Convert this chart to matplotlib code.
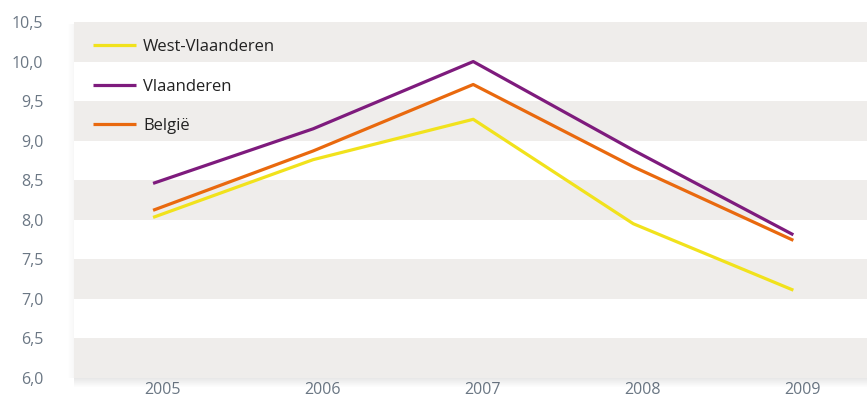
import numpy as np
import matplotlib.pyplot as plt
from matplotlib.patches import Rectangle
import matplotlib.transforms as mtransforms

plt.rcParams['font.family'] = ['Open Sans', 'DejaVu Sans']

jaren = ['2005', '2006', '2007', '2008', '2009']
west_vlaanderen = [8.03, 8.76, 9.27, 7.95, 7.11]
vlaanderen = [8.46, 9.15, 10.0, 8.88, 7.81]
belgie = [8.12, 8.87, 9.71, 8.67, 7.74]
y_ticks = [6.0, 6.5, 7.0, 7.5, 8.0, 8.5, 9.0, 9.5, 10.0, 10.5]

fig = plt.figure(figsize=(8.67, 3.97), dpi=100)
ax = fig.add_axes([74/867, 19/397, 1 - 74/867, 356/397])

# grijze en witte banden om de halve eenheid
for i, lo in enumerate(y_ticks[:-1]):
    kleur = '#efedeb' if i % 2 == 0 else 'white'
    ax.axhspan(lo, lo + 0.5, color=kleur, zorder=0, lw=0)

x = np.arange(len(jaren))
ax.plot(x, west_vlaanderen, color='#f1e21c', lw=2.3, label='West-Vlaanderen', solid_capstyle='butt')
ax.plot(x, vlaanderen, color='#7e1b7d', lw=2.3, label='Vlaanderen', solid_capstyle='butt')
ax.plot(x, belgie, color='#e9690e', lw=2.3, label='België', solid_capstyle='butt')

ax.set_xlim(-0.494, 4.46)
ax.set_ylim(6.0, 10.5)
ax.set_xticks(x)
ax.set_xticklabels(jaren)
ax.set_yticks(y_ticks)
ax.set_yticklabels([f'{v:.1f}'.replace('.', ',') for v in y_ticks])
ax.tick_params(length=0, labelsize=11.5, labelcolor='#6b7784')
ax.tick_params(axis='y', pad=22)
ax.tick_params(axis='x', pad=3)
for s in ax.spines.values():
    s.set_visible(False)

# jaartallen iets naar rechts
verschuif = mtransforms.ScaledTranslation(9/100, 0, fig.dpi_scale_trans)
for lbl in ax.get_xticklabels():
    lbl.set_transform(lbl.get_transform() + verschuif)

leg = ax.legend(loc='upper left', bbox_to_anchor=(19/793, 1 - 17/356), frameon=False,
                fontsize=12, handlelength=2.6, handletextpad=0.4,
                labelspacing=1.42, borderpad=0, borderaxespad=0)
for t in leg.get_texts():
    t.set_color('#222222')

# zachte schaduw links en onder het plotvlak
for k in range(9):
    a = 0.09 * (1 - k / 9)
    fig.patches.append(Rectangle((74/867, (19 - k - 1)/397), 1, 1/397,
                                 transform=fig.transFigure, color='black', alpha=a, lw=0))
for k in range(6):
    a = 0.03 * (1 - k / 6)
    fig.patches.append(Rectangle(((74 - k - 1)/867, 19/397), 1/867, 354/397,
                                 transform=fig.transFigure, color='black', alpha=a, lw=0))

fig.savefig('out.png', dpi=100)
